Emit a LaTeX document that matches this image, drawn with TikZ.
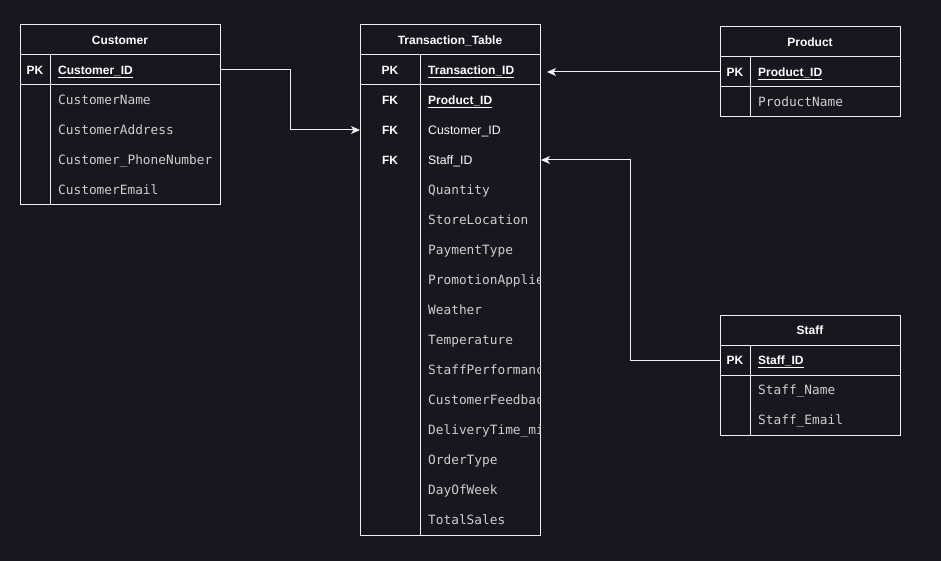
\documentclass[tikz,border=0pt]{standalone}
\usepackage{fontspec}
\setsansfont{Liberation Sans}
\setmonofont{DejaVu Sans Mono}
\usetikzlibrary{arrows.meta}
\definecolor{canvas}{HTML}{18161E}
\definecolor{linecol}{HTML}{F0F0F0}
\definecolor{attrcol}{HTML}{CFCFCF}
\tikzset{
  frame/.style={draw=linecol, line width=1pt},
  txt/.style={inner sep=0pt, text height=10.5pt, text depth=1.5pt},
  hdr/.style={txt, font=\sffamily\bfseries\fontsize{12}{14}\selectfont, text=white},
  keylbl/.style={txt, font=\sffamily\bfseries\fontsize{12}{14}\selectfont, text=white},
  keyname/.style={txt, font=\sffamily\bfseries\fontsize{12}{14}\selectfont, text=white, anchor=west},
  fkname/.style={txt, font=\sffamily\fontsize{12.3}{14}\selectfont, text=white, anchor=west},
  attr/.style={txt, font=\ttfamily\fontsize{12.8}{15}\selectfont, text=attrcol, anchor=west},
  link/.style={draw=linecol, line width=1pt, -{Stealth[length=9pt,width=8pt,inset=2.5pt]}},
}
% table frame: left, right, key divider, top, bottom
\newcommand\erframe[5]{%
  \draw[frame] (#1,#4) rectangle (#2,#5);
  \draw[frame] (#1,#4+30) -- (#2,#4+30);
  \draw[frame] (#1,#4+60) -- (#2,#4+60);
  \draw[frame] (#3,#4+30) -- (#3,#5);
}
\begin{document}
\begin{tikzpicture}[x=1pt, y=-1pt]
\fill[canvas] (0,0) rectangle (941,561);
\useasboundingbox (0,0) rectangle (941,561);

% ---- Customer ----
\erframe{20}{220}{50}{25}{205}
\node[hdr] (cust-h) at (120,40) {Customer};
\node[keylbl] (cust-pkl) at (35,70) {PK};
\node[keyname] (cust-id) at (58,70) {\underline{Customer\_ID}};
\node[attr] (cust-a1) at (58,100) {CustomerName};
\node[attr] (cust-a2) at (58,130) {CustomerAddress};
\node[attr] (cust-a3) at (58,160) {Customer\_PhoneNumber};
\node[attr] (cust-a4) at (58,190) {CustomerEmail};
\coordinate (cust-pk) at (220,70);

% ---- Transaction_Table ----
\erframe{360}{540}{420}{25}{535}
\node[hdr] (tr-h) at (450,40) {Transaction\_Table};
\node[keylbl] (tr-pkl) at (390,70) {PK};
\node[keyname] (tr-id) at (428,70) {\underline{Transaction\_ID}};
\node[keylbl] (tr-fk1) at (390,100) {FK};
\node[keyname] (tr-prod) at (428,100) {\underline{Product\_ID}};
\node[keylbl] (tr-fk2) at (390,130) {FK};
\node[fkname] (tr-cust) at (428,130) {Customer\_ID};
\node[keylbl] (tr-fk3) at (390,160) {FK};
\node[fkname] (tr-staff) at (428,160) {Staff\_ID};
\begin{scope}
  \clip (420,85) rectangle (540,535);
  \node[attr] (tr-a1) at (428,190) {Quantity};
  \node[attr] (tr-a2) at (428,220) {StoreLocation};
  \node[attr] (tr-a3) at (428,250) {PaymentType};
  \node[attr] (tr-a4) at (428,280) {PromotionApplied};
  \node[attr] (tr-a5) at (428,310) {Weather};
  \node[attr] (tr-a6) at (428,340) {Temperature};
  \node[attr] (tr-a7) at (428,370) {StaffPerformance};
  \node[attr] (tr-a8) at (428,400) {CustomerFeedback};
  \node[attr] (tr-a9) at (428,430) {DeliveryTime\_min};
  \node[attr] (tr-a10) at (428,460) {OrderType};
  \node[attr] (tr-a11) at (428,490) {DayOfWeek};
  \node[attr] (tr-a12) at (428,520) {TotalSales};
\end{scope}
\coordinate (tr-pk-in) at (547,72);
\coordinate (tr-cust-in) at (360,130);
\coordinate (tr-staff-in) at (541,160);

% ---- Product ----
\erframe{720}{900}{750}{27}{117}
\node[hdr] (prod-h) at (810,42) {Product};
\node[keylbl] (prod-pkl) at (735,72) {PK};
\node[keyname] (prod-id) at (758,72) {\underline{Product\_ID}};
\node[attr] (prod-a1) at (758,102) {ProductName};
\coordinate (prod-pk) at (720,72);

% ---- Staff ----
\erframe{720}{900}{750}{315}{435}
\node[hdr] (staff-h) at (810,330) {Staff};
\node[keylbl] (staff-pkl) at (735,360) {PK};
\node[keyname] (staff-id) at (758,360) {\underline{Staff\_ID}};
\node[attr] (staff-a1) at (758,390) {Staff\_Name};
\node[attr] (staff-a2) at (758,420) {Staff\_Email};
\coordinate (staff-pk) at (720,360);

% ---- relationships ----
\draw[link] (cust-pk) -- ++(70,0) |- (tr-cust-in);
\draw[link] (prod-pk) -- (tr-pk-in);
\draw[link] (staff-pk) -- ++(-90,0) |- (tr-staff-in);
\end{tikzpicture}
\end{document}
